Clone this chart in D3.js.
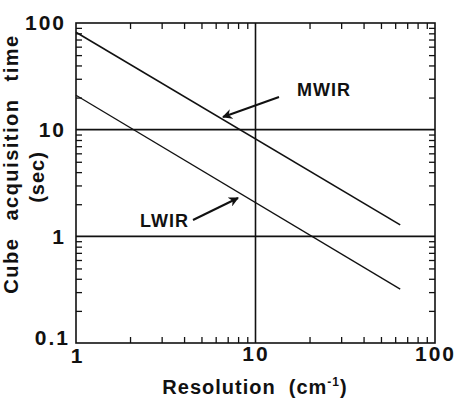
<!DOCTYPE html>
<html>
<head>
<meta charset="utf-8">
<script src="https://cdn.jsdelivr.net/npm/d3@7"></script>
<style>
  body { margin: 0; background: #fff; }
  text { font-family: "Liberation Sans", Arial, sans-serif; font-weight: bold; fill: #111; white-space: pre; }
</style>
</head>
<body>
<div id="chart"></div>
<script>
// data (log-log straight lines)
var mwirRes = [1, 64];
var mwirTime = [82, 1.28];
var lwirRes = [1, 64];
var lwirTime = [21, 0.32];

var xMajor = [1, 10, 100];
var yMajor = [0.1, 1, 10, 100];
var yLabels = ["0.1", "1", "10", "100"];
var xLabels = ["1", "10", "100"];
var gridX = [10];
var gridY = [1, 10];

var margin = {top: 23, right: 25, bottom: 61, left: 76},
    width = 460 - margin.left - margin.right,
    height = 404 - margin.top - margin.bottom;

var svg = d3.select("#chart").append("svg")
    .attr("width", 460)
    .attr("height", 404);
var g = svg.append("g")
    .attr("transform", "translate(" + margin.left + "," + margin.top + ")");

var x = d3.scaleLog().domain([1, 100]).range([0, width]);
var y = d3.scaleLog().domain([0.1, 100]).range([height, 0]);

function minors(lo, hi) {
    var out = [];
    for (var d = lo; d < hi; d *= 10) {
        for (var k = 2; k <= 9; k++) out.push(d * k);
    }
    return out;
}
var xMinor = minors(1, 100);
var yMinor = minors(0.1, 100);

function cleanTicks(sel) {
    sel.select(".domain").remove();
    sel.selectAll(".tick line").attr("stroke", "#111").attr("stroke-width", 1.3);
}

// inward minor ticks on all four sides
g.append("g").attr("transform", "translate(0," + height + ")")
    .call(d3.axisBottom(x).tickValues(xMinor).tickSize(-6).tickFormat(""))
    .call(cleanTicks);
g.append("g")
    .call(d3.axisTop(x).tickValues(xMinor).tickSize(-6).tickFormat(""))
    .call(cleanTicks);
g.append("g")
    .call(d3.axisLeft(y).tickValues(yMinor).tickSize(-6).tickFormat(""))
    .call(cleanTicks);
g.append("g").attr("transform", "translate(" + width + ",0)")
    .call(d3.axisRight(y).tickValues(yMinor).tickSize(-6).tickFormat(""))
    .call(cleanTicks);

// grid lines at decades
g.selectAll(".gx").data(gridX).enter().append("line")
    .attr("x1", function(d) { return x(d); }).attr("x2", function(d) { return x(d); })
    .attr("y1", 0).attr("y2", height)
    .attr("stroke", "#111").attr("stroke-width", 1.6);
g.selectAll(".gy").data(gridY).enter().append("line")
    .attr("x1", 0).attr("x2", width)
    .attr("y1", function(d) { return y(d); }).attr("y2", function(d) { return y(d); })
    .attr("stroke", "#111").attr("stroke-width", 1.6);

// frame
g.append("rect").attr("width", width).attr("height", height)
    .attr("fill", "none").attr("stroke", "#111").attr("stroke-width", 1.6);

// tick labels
var yl = g.append("g")
    .call(d3.axisLeft(y).tickValues(yMajor).tickSize(0).tickPadding(10)
        .tickFormat(function(d, i) { return yLabels[i]; }));
yl.select(".domain").remove();
yl.selectAll("text").style("font-size", "21px").style("letter-spacing", "2px")
    .attr("font-family", null);
// corner label pushed up-left so it doesn't run into the x "1"
yl.selectAll(".tick").filter(function(d) { return d === 0.1; })
    .select("text").attr("x", -6).attr("dy", "0.05em");

var xl = g.append("g").attr("transform", "translate(0," + height + ")")
    .call(d3.axisBottom(x).tickValues(xMajor).tickSize(0).tickPadding(3)
        .tickFormat(function(d, i) { return xLabels[i]; }));
xl.select(".domain").remove();
xl.selectAll("text").style("font-size", "21px").style("letter-spacing", "2px")
    .attr("font-family", null);
xl.selectAll(".tick").filter(function(d) { return d === 1; })
    .select("text").attr("dx", 1).attr("y", 5);

// lines
var line = d3.line().x(function(d) { return x(d[0]); }).y(function(d) { return y(d[1]); });
g.append("path").datum(d3.zip(mwirRes, mwirTime))
    .attr("d", line).attr("fill", "none").attr("stroke", "#111").attr("stroke-width", 1.6);
g.append("path").datum(d3.zip(lwirRes, lwirTime))
    .attr("d", line).attr("fill", "none").attr("stroke", "#111").attr("stroke-width", 1.3);

// arrows + labels
svg.append("defs").append("marker")
    .attr("id", "head").attr("viewBox", "0 0 10 10")
    .attr("refX", 9).attr("refY", 5)
    .attr("markerWidth", 10).attr("markerHeight", 10)
    .attr("markerUnits", "userSpaceOnUse")
    .attr("orient", "auto")
    .append("path").attr("d", "M0,0 L10,5 L0,10 L3,5 Z").attr("fill", "#111");

svg.append("line").attr("x1", 279).attr("y1", 97).attr("x2", 223).attr("y2", 117)
    .attr("stroke", "#111").attr("stroke-width", 2)
    .attr("marker-end", "url(#head)");
svg.append("line").attr("x1", 193).attr("y1", 220).attr("x2", 238).attr("y2", 198)
    .attr("stroke", "#111").attr("stroke-width", 2)
    .attr("marker-end", "url(#head)");

svg.append("text").attr("x", 297).attr("y", 96)
    .style("font-size", "18px").style("letter-spacing", "1px").text("MWIR");
svg.append("text").attr("x", 140).attr("y", 227)
    .style("font-size", "18px").style("letter-spacing", "1px").text("LWIR");

// axis titles
var xt = svg.append("text").attr("x", 255).attr("y", 394)
    .attr("text-anchor", "middle")
    .style("font-size", "20px").style("letter-spacing", "1px");
xt.append("tspan").text("Resolution  (cm");
xt.append("tspan").attr("dy", -8).style("font-size", "12px").text("-1");
xt.append("tspan").attr("dy", 8).text(")");

svg.append("text")
    .attr("transform", "translate(18,164) rotate(-90)")
    .attr("text-anchor", "middle")
    .style("font-size", "20px").style("letter-spacing", "1.5px").style("word-spacing", "10px")
    .text("Cube acquisition time");
svg.append("text")
    .attr("transform", "translate(44,177) rotate(-90)")
    .attr("text-anchor", "middle")
    .style("font-size", "20px").style("letter-spacing", "1px")
    .text("(sec)");
</script>
</body>
</html>
